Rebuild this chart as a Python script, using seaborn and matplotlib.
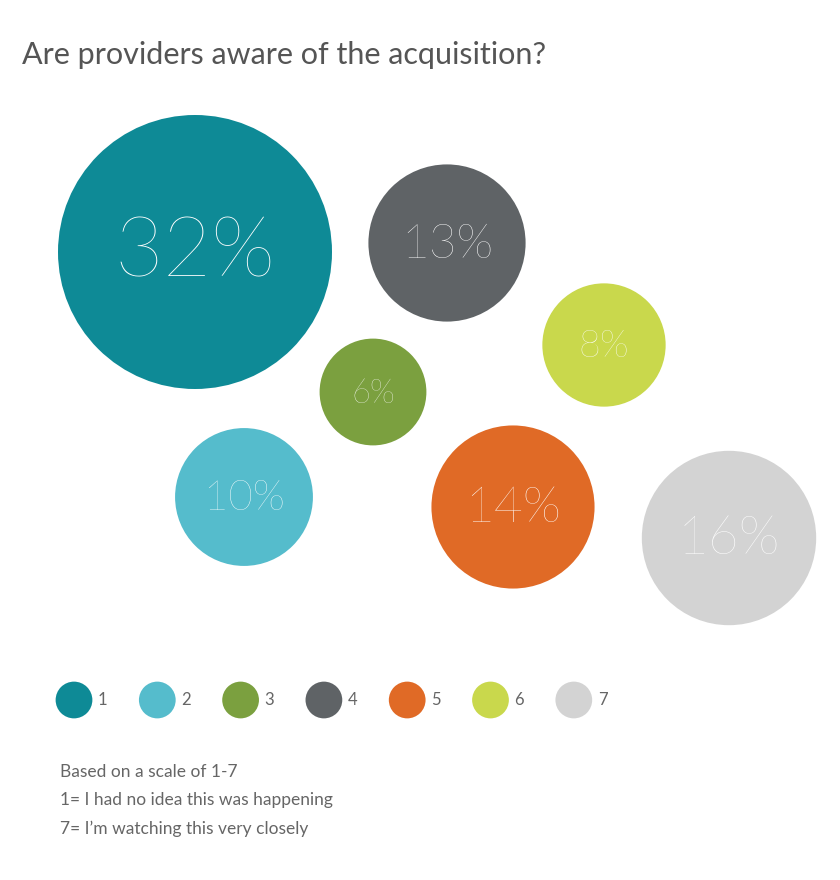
import numpy as np
import pandas as pd
import matplotlib
matplotlib.use("Agg")
import matplotlib.pyplot as plt
import seaborn as sns
from matplotlib.patches import Circle

# data
levels = ["1", "2", "3", "4", "5", "6", "7"]
shares = [32, 10, 6, 13, 14, 8, 16]
colors = ["#0e8a96", "#55bccc", "#7ba03f", "#5f6366", "#e06a26", "#c9d84c", "#d3d3d3"]

# layout (pixel positions of bubble centres)
cx = [195, 244, 373, 447, 513, 604, 729]
cy = [252, 497, 392, 243, 507, 345, 538]

sns.set_style("white")
plt.rcParams["font.family"] = ["Lato", "DejaVu Sans"]

fig = plt.figure(figsize=(8.4, 8.8), dpi=100)
ax = fig.add_axes([0, 0, 1, 1])
ax.set_xlim(0, 840)
ax.set_ylim(880, 0)
ax.axis("off")

k = 137 / np.sqrt(max(shares))
for lv, v, c, x, y in zip(levels, shares, colors, cx, cy):
    r = k * np.sqrt(v) * (1.0 if v == 32 else 0.9)
    ax.add_patch(Circle((x, y), r, color=c, lw=0))
    ax.text(x, y + 2, f"{v}%", color="white", ha="center", va="center",
            fontsize=0.44 * r, fontweight="light")

ax.text(22, 55, "Are providers aware of the acquisition?", fontsize=22,
        color="#555555", va="center", ha="left")

# legend dots
leg = pd.DataFrame({"x": [74 + 83.3 * i for i in range(len(levels))],
                    "y": [700] * len(levels), "level": levels})
sns.scatterplot(data=leg, x="x", y="y", hue="level", palette=colors, s=700,
                linewidth=0, legend=False, ax=ax)
for x, lv in zip(leg["x"], levels):
    ax.text(x + 24, 700, lv, fontsize=12, color="#666666", va="center")

notes = ["Based on a scale of 1-7", "1= I had no idea this was happening",
         "7= I\u2019m watching this very closely"]
for i, t in enumerate(notes):
    ax.text(60, 772 + 28.5 * i, t, fontsize=12.5, color="#666666", va="center")

fig.savefig("out.png", dpi=100, facecolor="white")
